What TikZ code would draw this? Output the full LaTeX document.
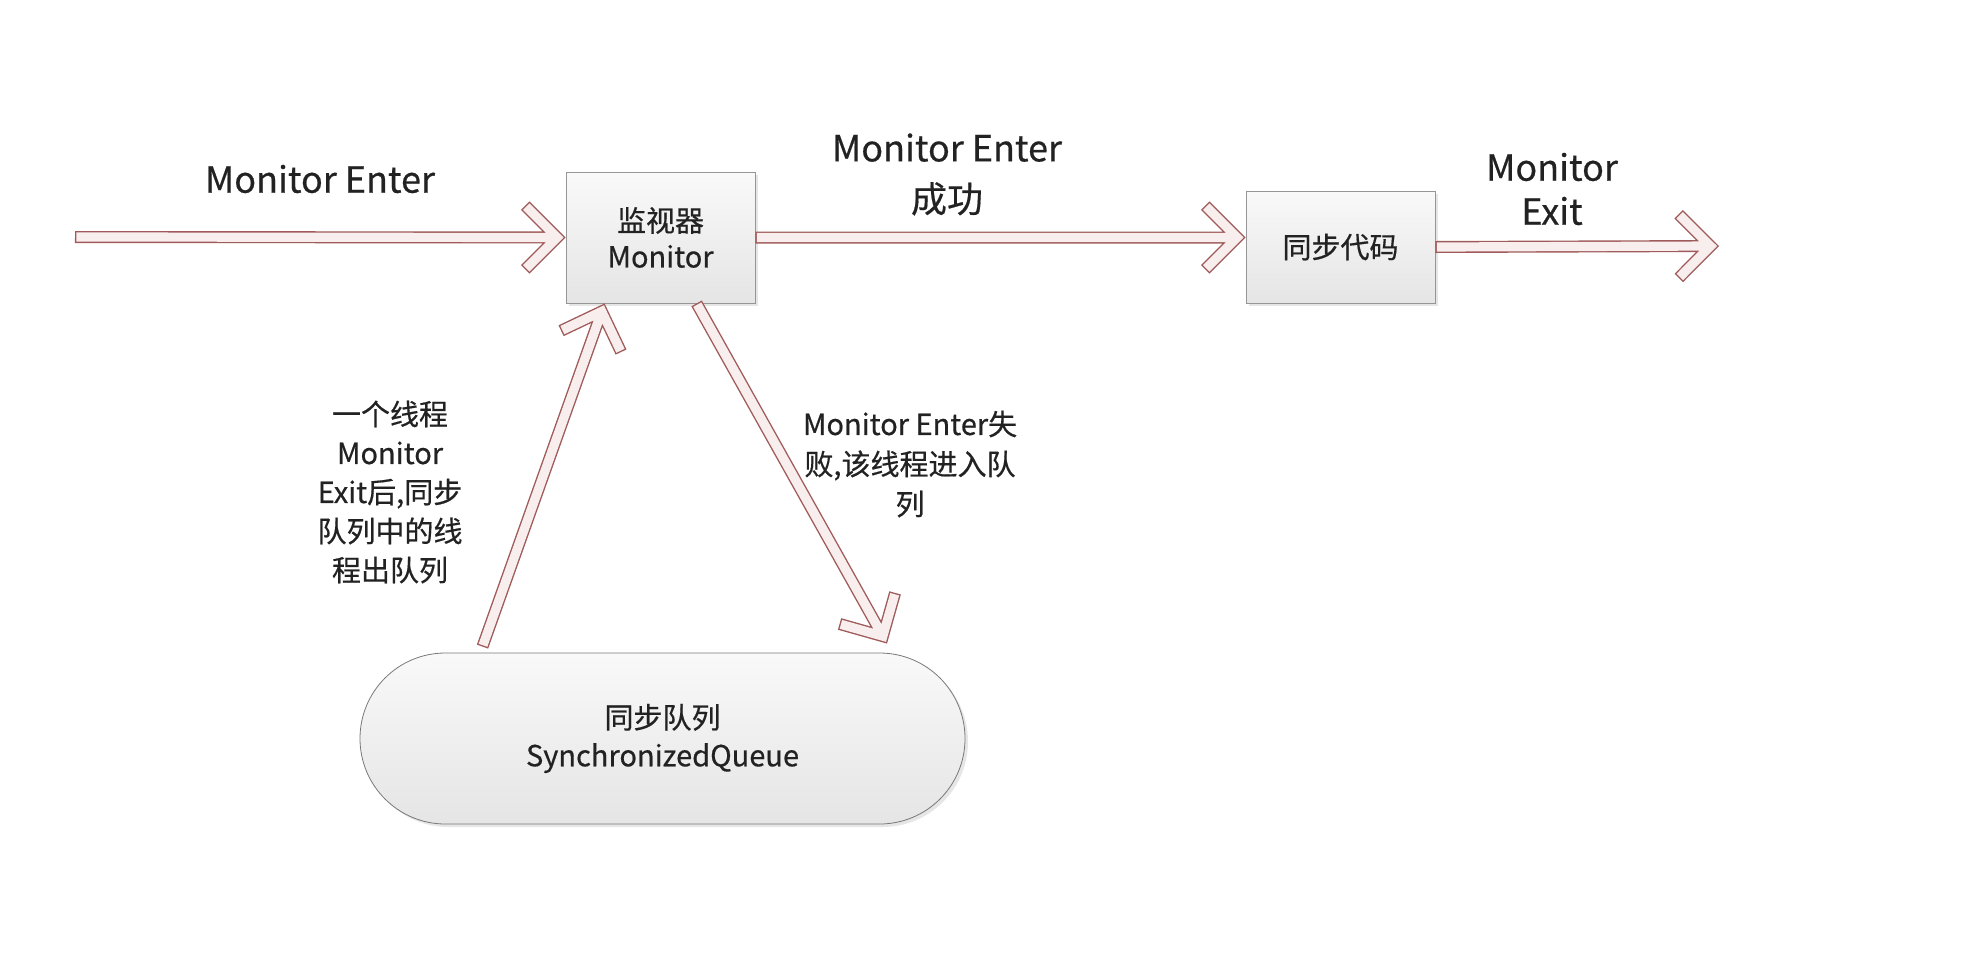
\documentclass[tikz,border=0pt]{standalone}
\usepackage{fontspec}
\setmainfont{Noto Sans CJK SC}[FakeBold=0.5]
\usetikzlibrary{calc, shadows}

\definecolor{arrowline}{RGB}{160,90,90}
\definecolor{arrowfill}{RGB}{249,238,238}
\definecolor{boxline}{RGB}{150,150,150}
\definecolor{queueline}{RGB}{120,120,120}
\definecolor{boxtop}{RGB}{249,249,249}
\definecolor{boxbot}{RGB}{229,229,229}
\definecolor{txt}{RGB}{34,34,34}

% hollow block arrow from #1 to #2 (tip touches #2)
\newcommand\hollowarrow[2]{%
  \path (#1) coordinate (hA) (#2) coordinate (hB);
  \path ($(hB)!4.25pt!(hA)$) coordinate (hT);
  \draw[hollow] ($(hA)!3pt!(hB)$) -- ($(hT)!4pt!(hA)$)
    ($(hT)!19.5pt!45:(hA)$) -- (hT) -- ($(hT)!19.5pt!-45:(hA)$);%
}

\begin{document}
\begin{tikzpicture}[
      x=0.5pt, y=-0.5pt,
      box/.style={draw=boxline, top color=boxtop, bottom color=boxbot, minimum width=94.5pt, align=center,
        text=txt, font=\fontsize{14.5}{18}\selectfont,
        drop shadow={shadow xshift=1.5pt, shadow yshift=-1.5pt, opacity=0.2, fill=gray}},
      lbl/.style={align=center, text=txt},
      big/.style={lbl, font=\fontsize{18}{22}\selectfont},
      small/.style={lbl, font=\fontsize{14.5}{19.5}\selectfont},
      hollow/.style={draw=arrowline, double=arrowfill, double distance=4.6pt, line width=0.7pt,
        line join=miter, line cap=rect}
    ]
    \useasboundingbox (0,0) rectangle (1986,964);

    \node[box, minimum height=65.5pt] (monitor) at (660.5,237.5) {监视器\\Monitor};
    \node[box, minimum height=56pt] (sync) at (1340.5,247) {同步代码};
    \node[box, draw=queueline, minimum width=302.5pt, minimum height=85.5pt, rounded corners=42.7pt,
      font=\fontsize{14.5}{19}\selectfont] (queue) at (662.5,738.5) {同步队列\\SynchronizedQueue};

    \node[big] (enterLbl) at (320,179) {Monitor Enter};
    \node[big, font=\fontsize{18}{25.5}\selectfont] (okLbl) at (947,174.5) {Monitor Enter\\成功};
    \node[big] (exitLbl) at (1552,189) {Monitor\\Exit};
    \node[small] (outLbl) at (390,492) {一个线程\\Monitor\\Exit后,同步\\队列中的线\\程出队列};
    \node[small, font=\fontsize{14.5}{20}\selectfont] (failLbl) at (910,464) {Monitor Enter失\\败,该线程进入队\\列};

    \coordinate (inStart) at (75,237);
    \coordinate (outEnd) at (1719,246);
    \coordinate (okTip) at (sync.west |- monitor.east);
    \coordinate (upStart) at ([xshift=-90pt, yshift=3pt]queue.north);
    \coordinate (upTip) at ([xshift=19.5pt]monitor.south west);
    \coordinate (downStart) at ([xshift=65.5pt]monitor.south west);
    \coordinate (downTip) at ([xshift=112.25pt, yshift=4.5pt]queue.north);

    \hollowarrow{inStart}{monitor.west}
    \hollowarrow{monitor.east}{okTip}
    \hollowarrow{sync.east}{outEnd}
    \hollowarrow{upStart}{upTip}
    \hollowarrow{downStart}{downTip}
  \end{tikzpicture}
\end{document}
